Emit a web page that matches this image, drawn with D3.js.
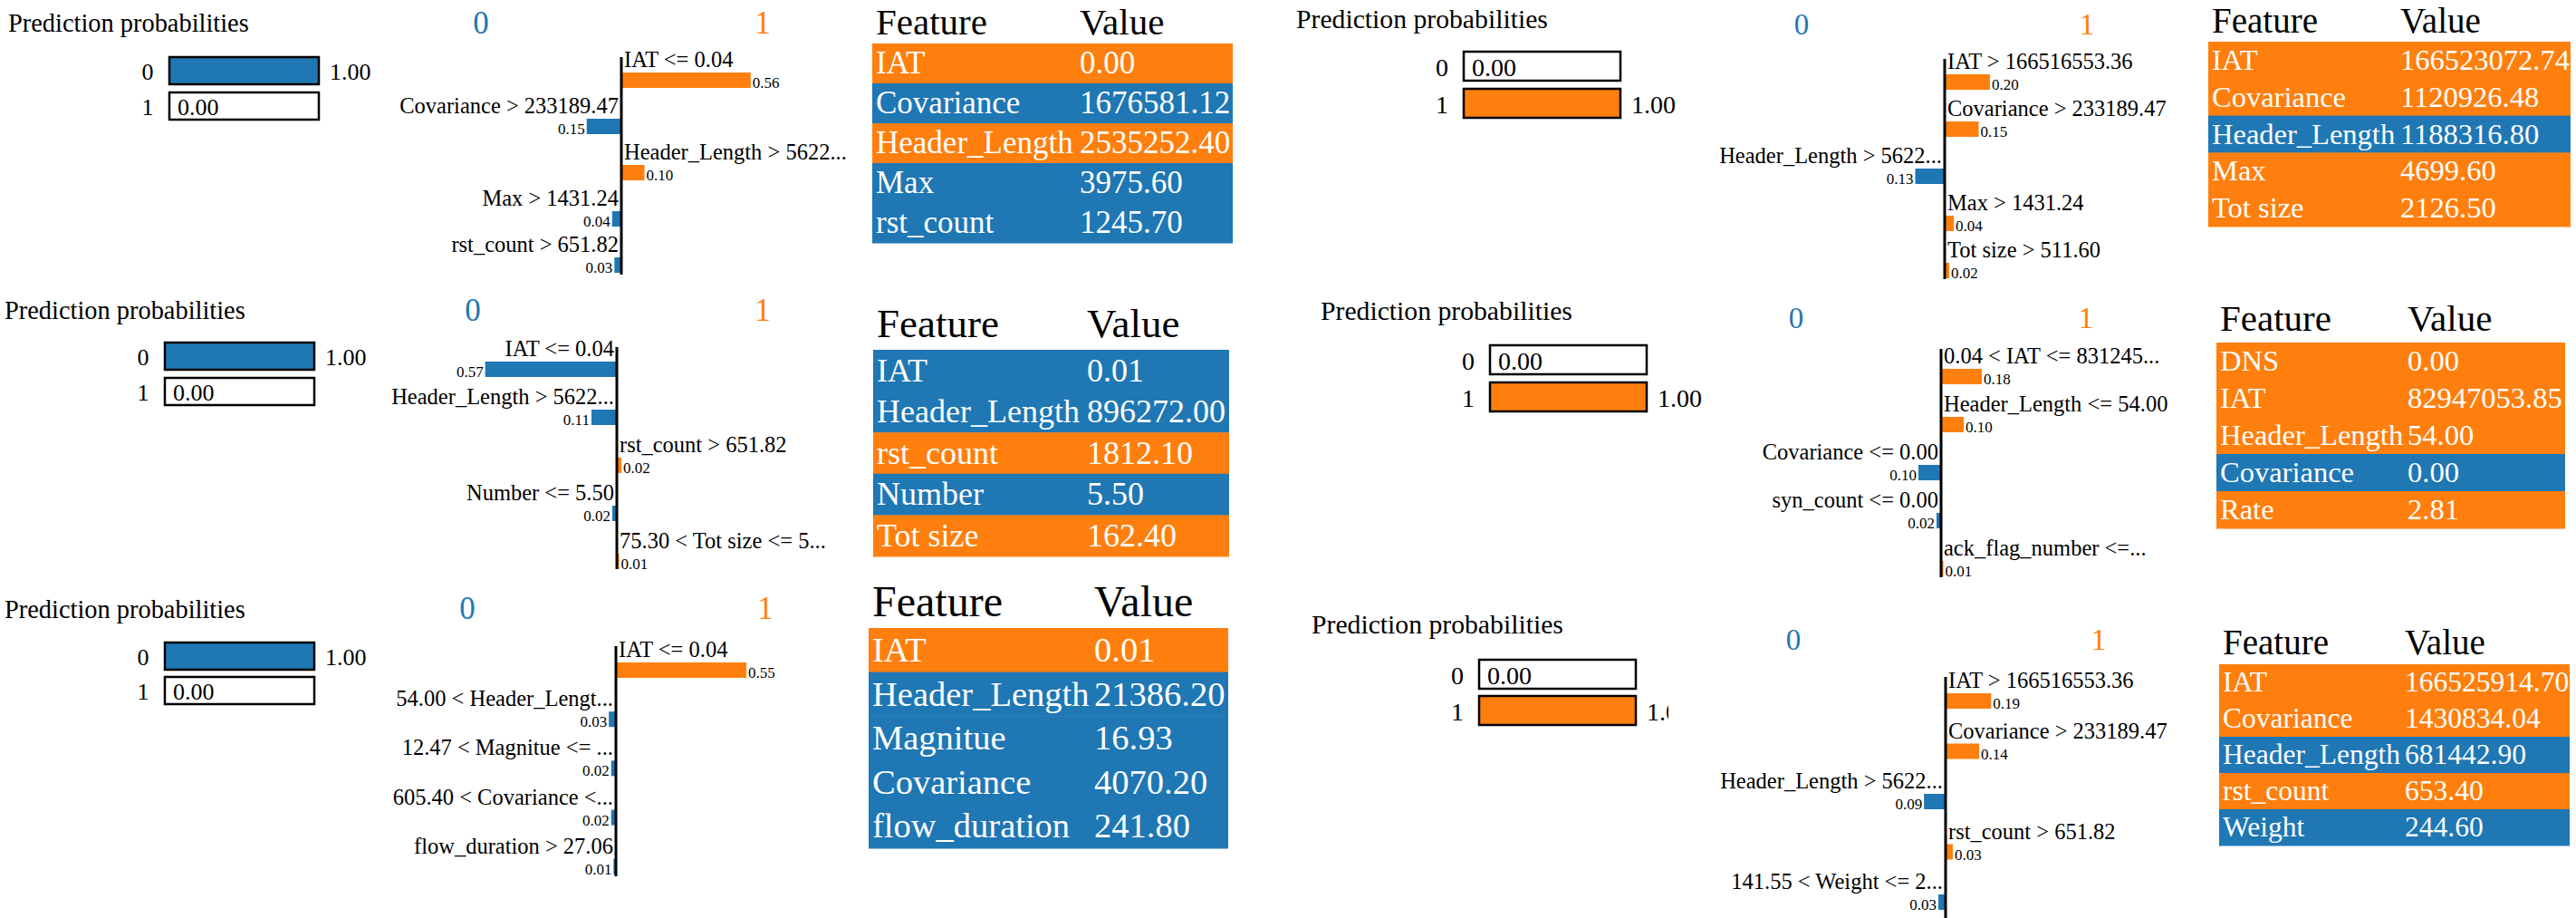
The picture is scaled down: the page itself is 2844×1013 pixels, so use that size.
<!DOCTYPE html>
<html lang="en">
<head>
<meta charset="UTF-8">
<title>LIME explanations</title>
<script src="https://cdn.jsdelivr.net/npm/d3@7"></script>
<style>
  body { margin: 0; background: #fff; }
  svg { display: block; font-family: "Liberation Serif", "DejaVu Serif", serif; }
</style>
</head>
<body>
<script>
// classes
var classNames = ["0", "1"];
var classColors = ["#1f77b4", "#ff7f0e"];

// prediction probabilities for class 0 / class 1, one pair per panel
var probs = [
  [1.00, 0.00], [1.00, 0.00], [1.00, 0.00],
  [0.00, 1.00], [0.00, 1.00], [0.00, 1.00]
];

// explanation rules and weights (negative = class 0, positive = class 1)
var rules = [
  ["IAT <= 0.04", "Covariance > 233189.47", "Header_Length > 5622...", "Max > 1431.24", "rst_count > 651.82"],
  ["IAT <= 0.04", "Header_Length > 5622...", "rst_count > 651.82", "Number <= 5.50", "75.30 < Tot size <= 5..."],
  ["IAT <= 0.04", "54.00 < Header_Lengt...", "12.47 < Magnitue <= ...", "605.40 < Covariance <...", "flow_duration > 27.06"],
  ["IAT > 166516553.36", "Covariance > 233189.47", "Header_Length > 5622...", "Max > 1431.24", "Tot size > 511.60"],
  ["0.04 < IAT <= 831245...", "Header_Length <= 54.00", "Covariance <= 0.00", "syn_count <= 0.00", "ack_flag_number <=..."],
  ["IAT > 166516553.36", "Covariance > 233189.47", "Header_Length > 5622...", "rst_count > 651.82", "141.55 < Weight <= 2..."]
];
var weights = [
  [0.56, -0.15, 0.10, -0.04, -0.03],
  [-0.57, -0.11, 0.02, -0.02, 0.01],
  [0.55, -0.03, -0.02, -0.02, -0.01],
  [0.20, 0.15, -0.13, 0.04, 0.02],
  [0.18, 0.10, -0.10, -0.02, 0.01],
  [0.19, 0.14, -0.09, 0.03, -0.03]
];

// feature / value tables
var tableFeatures = [
  ["IAT", "Covariance", "Header_Length", "Max", "rst_count"],
  ["IAT", "Header_Length", "rst_count", "Number", "Tot size"],
  ["IAT", "Header_Length", "Magnitue", "Covariance", "flow_duration"],
  ["IAT", "Covariance", "Header_Length", "Max", "Tot size"],
  ["DNS", "IAT", "Header_Length", "Covariance", "Rate"],
  ["IAT", "Covariance", "Header_Length", "rst_count", "Weight"]
];
var tableValues = [
  ["0.00", "1676581.12", "2535252.40", "3975.60", "1245.70"],
  ["0.01", "896272.00", "1812.10", "5.50", "162.40"],
  ["0.01", "21386.20", "16.93", "4070.20", "241.80"],
  ["166523072.74", "1120926.48", "1188316.80", "4699.60", "2126.50"],
  ["0.00", "82947053.85", "54.00", "0.00", "2.81"],
  ["166525914.70", "1430834.04", "681442.90", "653.40", "244.60"]
];
var tableClass = [
  [1, 0, 1, 0, 0],
  [0, 0, 1, 0, 1],
  [1, 0, 0, 0, 0],
  [1, 1, 0, 1, 1],
  [1, 1, 1, 0, 1],
  [1, 1, 0, 1, 0]
];

// where each panel sits
var layout = [
  {title: [9, 35], titleFont: 28.4, probX: 187, probW: 165, probY: 63, probH: 30, probStep: 39, probFont: 26,
   cls: [531, 842], clsY: 37, clsFont: 35, axisX: 686, axisTop: 63, axisBot: 303, barTop: 80, step: 51, unit: 255,
   table: {x: 963, y: 48, w: 398, rowH: 44, font: 35, headY: 38, headFont: 41, valDx: 229}},
  {title: [5, 352], titleFont: 28.4, probX: 182, probW: 165, probY: 378, probH: 30, probStep: 39, probFont: 26,
   cls: [522, 842], clsY: 354, clsFont: 35, axisX: 681, axisTop: 383, axisBot: 628, barTop: 399, step: 53, unit: 255,
   table: {x: 964, y: 386, w: 393, rowH: 45.6, font: 36, headY: 372, headFont: 45, valDx: 236}},
  {title: [5, 682], titleFont: 28.4, probX: 182, probW: 165, probY: 709, probH: 30, probStep: 38, probFont: 26,
   cls: [516, 845], clsY: 683, clsFont: 35, axisX: 680, axisTop: 713, axisBot: 967, barTop: 731, step: 54.2, unit: 262,
   table: {x: 959, y: 693, w: 397, rowH: 48.6, font: 38.5, headY: 680, headFont: 48, valDx: 249}},
  {title: [1431, 31], titleFont: 29.7, probX: 1616, probW: 173, probY: 57, probH: 32, probStep: 41, probFont: 28,
   cls: [1989, 2304], clsY: 38, clsFont: 33, axisX: 2147, axisTop: 65, axisBot: 308, barTop: 82, step: 52, unit: 250,
   table: {x: 2438, y: 46, w: 400, rowH: 40.8, font: 32.5, headY: 36, headFont: 39, valDx: 212}},
  {title: [1458, 353], titleFont: 29.7, probX: 1645, probW: 173, probY: 381, probH: 32, probStep: 41, probFont: 28,
   cls: [1983, 2303], clsY: 362, clsFont: 33, axisX: 2143, axisTop: 385, axisBot: 637, barTop: 407, step: 53, unit: 250,
   table: {x: 2447, y: 378, w: 385, rowH: 41, font: 32.5, headY: 365, headFont: 41, valDx: 211}},
  {title: [1448, 699], titleFont: 29.7, probX: 1633, probW: 173, probY: 728, probH: 32, probStep: 40, probFont: 28,
   cls: [1980, 2317], clsY: 717, clsFont: 33, axisX: 2148, axisTop: 747, axisBot: 1013, barTop: 765, step: 55.5, unit: 265,
   clip: 1842,
   table: {x: 2450, y: 733, w: 387, rowH: 40, font: 31.5, headY: 722, headFont: 39, valDx: 205}}
];

var svg = d3.select("body").append("svg")
  .attr("width", 2844)
  .attr("height", 1013)
  .attr("font-family", "Liberation Serif, DejaVu Serif, serif");

var defs = svg.append("defs");

layout.forEach(function(L, i) {
  var g = svg.append("g");

  // left part: title + probability bars (last panel is cut off on the right)
  var pg = g.append("g");
  if (L.clip) {
    defs.append("clipPath").attr("id", "clip" + i)
      .append("rect").attr("x", 0).attr("y", 0).attr("width", L.clip).attr("height", 1013);
    pg.attr("clip-path", "url(#clip" + i + ")");
  }

  pg.append("text")
    .attr("x", L.title[0]).attr("y", L.title[1])
    .attr("font-size", L.titleFont)
    .text("Prediction probabilities");

  var px = d3.scaleLinear().domain([0, 1]).range([L.probX, L.probX + L.probW]);
  var py = d3.scaleLinear().domain([0, 1]).range([L.probY, L.probY + L.probStep]);

  var prow = pg.selectAll("g.prob")
    .data(probs[i])
    .enter().append("g").attr("class", "prob");

  prow.append("rect")
    .attr("x", px(0))
    .attr("y", function(d, j) { return py(j); })
    .attr("width", function(d) { return px(d) - px(0); })
    .attr("height", L.probH)
    .attr("fill", function(d, j) { return classColors[j]; });

  prow.append("rect")
    .attr("x", px(0))
    .attr("y", function(d, j) { return py(j); })
    .attr("width", px(1) - px(0))
    .attr("height", L.probH)
    .attr("fill", "none")
    .attr("stroke", "#000")
    .attr("stroke-width", 2.5);

  prow.append("text")
    .attr("x", px(0) - 24)
    .attr("y", function(d, j) { return py(j) + L.probH - 5; })
    .attr("text-anchor", "middle")
    .attr("font-size", L.probFont)
    .text(function(d, j) { return classNames[j]; });

  prow.append("text")
    .attr("x", function(d) { return d > 0.5 ? px(d) + 12 : px(0) + 9; })
    .attr("y", function(d, j) { return py(j) + L.probH - 5; })
    .attr("font-size", L.probFont)
    .text(function(d) { return d.toFixed(2); });

  // class headers above the explanation
  g.selectAll("text.cls")
    .data(classNames)
    .enter().append("text").attr("class", "cls")
    .attr("x", function(d, j) { return L.cls[j]; })
    .attr("y", L.clsY)
    .attr("text-anchor", "middle")
    .attr("font-size", L.clsFont)
    .attr("fill", function(d, j) { return classColors[j]; })
    .text(function(d) { return d; });

  // explanation bars
  var ex = d3.scaleLinear().domain([-1, 1]).range([L.axisX - L.unit, L.axisX + L.unit]);
  var ey = d3.scaleLinear().domain([0, 1]).range([L.barTop, L.barTop + L.step]);
  var barH = 17;

  var erow = g.selectAll("g.exp")
    .data(weights[i])
    .enter().append("g").attr("class", "exp");

  erow.append("rect")
    .attr("x", function(d) { return Math.min(ex(0), ex(d)); })
    .attr("y", function(d, j) { return ey(j); })
    .attr("width", function(d) { return Math.abs(ex(d) - ex(0)); })
    .attr("height", barH)
    .attr("fill", function(d) { return d > 0 ? classColors[1] : classColors[0]; });

  erow.append("text")
    .attr("x", function(d) { return d > 0 ? ex(0) + 3 : ex(0) - 3; })
    .attr("y", function(d, j) { return ey(j) - 6; })
    .attr("text-anchor", function(d) { return d > 0 ? "start" : "end"; })
    .attr("font-size", 24.5)
    .text(function(d, j) { return rules[i][j]; });

  erow.append("text")
    .attr("x", function(d) { return d > 0 ? ex(d) + 2 : ex(d) - 2; })
    .attr("y", function(d, j) { return ey(j) + barH; })
    .attr("text-anchor", function(d) { return d > 0 ? "start" : "end"; })
    .attr("font-size", 17)
    .text(function(d) { return Math.abs(d).toFixed(2); });

  g.append("line")
    .attr("x1", L.axisX).attr("x2", L.axisX)
    .attr("y1", L.axisTop).attr("y2", L.axisBot)
    .attr("stroke", "#000")
    .attr("stroke-width", 3);

  // feature / value table
  var T = L.table;
  var ty = d3.scaleBand().domain(d3.range(tableFeatures[i].length)).range([T.y, T.y + T.rowH * tableFeatures[i].length]);

  g.append("text").attr("x", T.x + 4).attr("y", T.headY).attr("font-size", T.headFont).text("Feature");
  g.append("text").attr("x", T.x + T.valDx).attr("y", T.headY).attr("font-size", T.headFont).text("Value");

  var trow = g.selectAll("g.trow")
    .data(tableFeatures[i])
    .enter().append("g").attr("class", "trow");

  trow.append("rect")
    .attr("x", T.x)
    .attr("y", function(d, j) { return ty(j); })
    .attr("width", T.w)
    .attr("height", ty.bandwidth() + 0.5)
    .attr("fill", function(d, j) { return classColors[tableClass[i][j]]; });

  trow.append("text")
    .attr("x", T.x + 4)
    .attr("y", function(d, j) { return ty(j) + T.rowH * 0.76; })
    .attr("font-size", T.font)
    .attr("fill", "#fff")
    .text(function(d) { return d; });

  trow.append("text")
    .attr("x", T.x + T.valDx)
    .attr("y", function(d, j) { return ty(j) + T.rowH * 0.76; })
    .attr("font-size", T.font)
    .attr("fill", "#fff")
    .text(function(d, j) { return tableValues[i][j]; });
});
</script>
</body>
</html>
